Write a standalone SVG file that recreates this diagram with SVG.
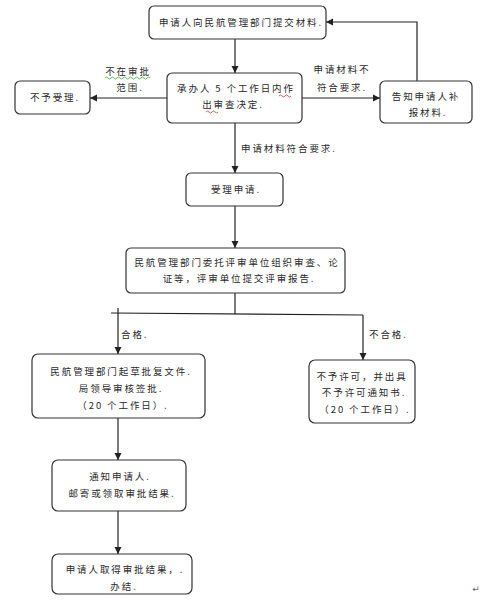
<svg xmlns="http://www.w3.org/2000/svg" width="486" height="603" viewBox="0 0 486 603">
<style>
.box{fill:#fff;stroke:#333;stroke-width:1.2}
.t{font-family:"Noto Sans CJK SC","Noto Sans",sans-serif;font-size:9.5px;letter-spacing:1.9px;fill:#2a2a2a;text-anchor:middle}
.s{fill:none;stroke:#222;stroke-width:1.2}
.w{fill:none;stroke-width:0.8}
</style>
<defs>
<marker id="ah" markerUnits="userSpaceOnUse" markerWidth="8" markerHeight="8" refX="7" refY="4" orient="auto">
<path d="M0,0.5 L7,4 L0,7.5 Z" fill="#222"/>
</marker>
</defs>
<rect width="486" height="603" fill="#fff"/>
<g id="connectors">
<line class="s" x1="235" y1="39" x2="235" y2="73" marker-end="url(#ah)"/>
<line class="s" x1="167" y1="98" x2="90" y2="98" marker-end="url(#ah)"/>
<line class="s" x1="302" y1="98" x2="380" y2="98" marker-end="url(#ah)"/>
<polyline class="s" points="417,81 417,22 326,22" marker-end="url(#ah)"/>
<line class="s" x1="235" y1="123" x2="235" y2="173" marker-end="url(#ah)"/>
<line class="s" x1="235" y1="206" x2="235" y2="248" marker-end="url(#ah)"/>
<line class="s" x1="235" y1="293" x2="235" y2="314"/>
<line class="s" x1="111" y1="313" x2="363" y2="315"/>
<line class="s" x1="118" y1="308" x2="118" y2="354" marker-end="url(#ah)"/>
<line class="s" x1="363" y1="315" x2="363" y2="360" marker-end="url(#ah)"/>
<line class="s" x1="118" y1="418" x2="118" y2="460" marker-end="url(#ah)"/>
<line class="s" x1="118" y1="511" x2="118" y2="554" marker-end="url(#ah)"/>
<text class="t" x="128" y="75">不在审批</text>
<text class="t" x="130" y="91">范围.</text>
<path class="w" stroke="#3a3" d="M105,78 q1.5,-2 3,0 t3,0 t3,0 t3,0 t3,0 t3,0 t3,0 t3,0 t3,0 t3,0 t3,0 t3,0 t3,0 t3,0 t3,0"/>
<text class="t" x="342" y="73">申请材料不</text>
<text class="t" x="342" y="91">符合要求.</text>
<text class="t" x="241" y="152" style="text-anchor:start">申请材料符合要求.</text>
<text class="t" x="121" y="338" style="text-anchor:start">合格.</text>
<text class="t" x="369" y="338" style="text-anchor:start">不合格.</text>
</g>
<g id="n1"><rect class="box" x="149" y="6" width="177" height="33" rx="5"/>
<text class="t" x="241" y="26">申请人向民航管理部门提交材料.</text></g>
<g id="n2"><rect class="box" x="167" y="73" width="135" height="50" rx="5"/>
<text class="t" x="236" y="92">承办人 5 个工作日内作</text>
<text class="t" x="233" y="108">出审查决定.</text>
<path class="w" stroke="#c33" d="M279,96 q1.5,-2 3,0 t3,0 t3,0 t3,0"/>
<path class="w" stroke="#c33" d="M206,112 q1.5,-2 3,0 t3,0 t3,0 t3,0"/></g>
<g id="n3"><rect class="box" x="15" y="81" width="75" height="33" rx="5"/>
<text class="t" x="55" y="101">不予受理.</text></g>
<g id="n4"><rect class="box" x="380" y="81" width="92" height="42" rx="5"/>
<text class="t" x="426" y="100">告知申请人补</text>
<text class="t" x="428" y="116">报材料.</text></g>
<g id="n5"><rect class="box" x="186" y="173" width="97" height="33" rx="5"/>
<text class="t" x="236" y="193">受理申请.</text></g>
<g id="n6"><rect class="box" x="126" y="248" width="219" height="45" rx="5"/>
<text class="t" x="237" y="266">民航管理部门委托评审单位组织审查、论</text>
<text class="t" x="239" y="282">证等，评审单位提交评审报告.</text></g>
<g id="n7"><rect class="box" x="32" y="354" width="173" height="64" rx="6"/>
<text class="t" x="121" y="375">民航管理部门起草批复文件.</text>
<text class="t" x="121" y="392">局领导审核签批.</text>
<text class="t" x="123" y="409">（20 个工作日）.</text></g>
<g id="n8"><rect class="box" x="309" y="360" width="106" height="63" rx="6"/>
<text class="t" x="362" y="380">不予许可，并出具</text>
<text class="t" x="364" y="396">不予许可通知书.</text>
<text class="t" x="365" y="413">（20 个工作日）.</text></g>
<g id="n9"><rect class="box" x="52" y="460" width="134" height="51" rx="6"/>
<text class="t" x="120" y="480">通知申请人.</text>
<text class="t" x="122" y="497">邮寄或领取审批结果.</text></g>
<g id="n10"><rect class="box" x="52" y="554" width="140" height="40" rx="6"/>
<text class="t" x="125" y="573">申请人取得审批结果，.</text>
<text class="t" x="124" y="590">办结.</text></g>
<text x="476" y="592" style="font-family:'DejaVu Sans',sans-serif;font-size:9px;fill:#666;text-anchor:middle">↵</text>
</svg>
